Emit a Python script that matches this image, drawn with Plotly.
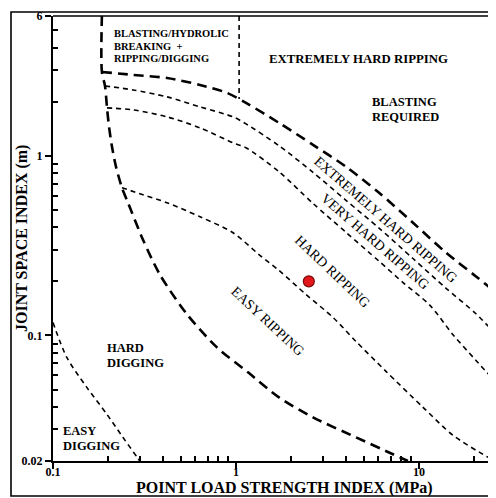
import plotly.graph_objects as go

# ---- data (values in MPa / m) ----
dig_rip_x = [0.185, 0.185, 0.1924, 0.1973, 0.2024, 0.2101, 0.2209, 0.2382, 0.2569, 0.3103, 0.384, 0.540, 0.787, 1.163, 1.718, 2.635, 4.526, 7.209, 8.7]
dig_rip_y = [6.0, 2.93, 2.448, 1.848, 1.449, 1.122, 0.869, 0.664, 0.548, 0.341, 0.218, 0.131, 0.0858, 0.0623, 0.0452, 0.0350, 0.0271, 0.0218, 0.020]

blast_x = [0.185, 0.274, 0.420, 0.636, 0.893, 1.134, 1.718, 2.635, 3.99, 6.05, 9.27, 14.05, 20.49, 26.4, 30.0]
blast_y = [2.93, 2.82, 2.71, 2.48, 2.24, 1.97, 1.525, 1.151, 0.869, 0.623, 0.424, 0.289, 0.213, 0.173, 0.156]

xhard_x = [0.1924, 0.274, 0.420, 0.636, 0.963, 1.134, 1.718, 2.635, 3.99, 6.05, 9.27, 14.05, 20.49, 26.4]
xhard_y = [2.448, 2.326, 2.128, 1.872, 1.647, 1.506, 1.138, 0.808, 0.565, 0.396, 0.268, 0.183, 0.132, 0.101]

vhard_x = [0.1973, 0.274, 0.420, 0.636, 0.963, 1.134, 1.718, 2.635, 3.99, 6.05, 8.18, 11.49, 15.34, 20.49, 26.4]
vhard_y = [1.848, 1.801, 1.647, 1.431, 1.181, 1.108, 0.815, 0.543, 0.375, 0.259, 0.197, 0.147, 0.101, 0.0725, 0.0548]

hard_x = [0.2382, 0.3103, 0.4198, 0.6358, 0.963, 1.336, 1.718, 2.413, 3.389, 4.526, 6.602, 10.52, 15.34, 23.23, 25.7]
hard_y = [0.664, 0.607, 0.548, 0.458, 0.373, 0.282, 0.230, 0.169, 0.126, 0.0926, 0.0631, 0.0398, 0.0278, 0.0213, 0.0202]

easydig_x = [0.1, 0.119, 0.153, 0.197, 0.241, 0.288, 0.298]
easydig_y = [0.118, 0.0754, 0.0514, 0.0364, 0.0271, 0.0210, 0.0200]

split_x = [1.04, 1.04]
split_y = [6.0, 2.07]

sample_x = [2.5]
sample_y = [0.2]

x_ticks = [0.1, 1, 10]
x_ticklabels = ["0.1", "1", "10"]
x_minor = [0.2, 0.3, 0.4, 0.5, 0.6, 0.7, 0.8, 0.9, 2, 3, 4, 5, 6, 7, 8, 9, 20]
y_ticks = [0.02, 0.1, 1, 6]
y_ticklabels = ["0.02", "0.1", "1", "6"]
y_minor = [0.03, 0.04, 0.05, 0.06, 0.07, 0.08, 0.09, 0.2, 0.3, 0.4, 0.5, 0.6, 0.7, 0.8, 0.9, 2, 3, 4, 5]

SERIF = "Liberation Serif, Times New Roman, serif"
LONG = dict(color="black", width=2.6, dash="10px,6px")
SHORT = dict(color="black", width=1.6, dash="5px,4px")

fig = go.Figure()
for xs, ys, st in [
    (dig_rip_x, dig_rip_y, LONG),
    (blast_x, blast_y, LONG),
    (xhard_x, xhard_y, SHORT),
    (vhard_x, vhard_y, SHORT),
    (hard_x, hard_y, SHORT),
    (easydig_x, easydig_y, SHORT),
    (split_x, split_y, SHORT),
]:
    fig.add_trace(go.Scatter(x=xs, y=ys, mode="lines", line=dict(st, shape="spline", smoothing=0.8),
                             showlegend=False, hoverinfo="skip"))

fig.add_trace(go.Scatter(x=sample_x, y=sample_y, mode="markers", showlegend=False,
                         marker=dict(size=11, color="#e3161b", line=dict(color="#7a0a0a", width=1.2))))

# page body has an 8px margin; plot area sits at window px x 53..496, y 16..461
OFF = 8


def PX(p):
    return (p - 53) / 443


def PY(p):
    return (461 - p) / 445


ann = []


def label(text, xp, yp, size=12.5, bold=True, angle=0, xanchor="left"):
    ann.append(dict(text=text, x=PX(xp), y=PY(yp), xref="paper", yref="paper", showarrow=False,
                    xanchor=xanchor, yanchor="middle", textangle=angle,
                    font=dict(family=SERIF, size=size, color="black", weight="bold" if bold else "normal")))


label("BLASTING/HYDROLIC", 112, 33, size=10.5)
label("BREAKING  +", 112, 46, size=10.5)
label("RIPPING/DIGGING", 112, 59, size=10.5)
label("EXTREMELY HARD RIPPING", 358, 59, size=12.8, xanchor="center")
label("BLASTING", 370, 102)
label("REQUIRED", 370, 117)
label("HARD", 105, 348)
label("DIGGING", 105, 363)
label("EASY", 61, 431)
label("DIGGING", 61, 446)

label("EXTREMELY HARD RIPPING", 385.5, 219, size=14, bold=False, angle=41, xanchor="center")
label("VERY HARD RIPPING", 375, 241.5, size=14, bold=False, angle=41, xanchor="center")
label("HARD RIPPING", 332.5, 271, size=14, bold=False, angle=43.6, xanchor="center")
label("EASY RIPPING", 268, 321, size=14, bold=False, angle=43, xanchor="center")

# axis titles
label("POINT LOAD STRENGTH INDEX (MPa)", 284.5, 488, size=16, xanchor="center")
label("JOINT SPACE INDEX (m)", 22, 239, size=16, angle=-90, xanchor="center")
# cut-off 30 tick label at the right edge
label("30", 506, 475, size=12, xanchor="center")

shapes = [
    dict(type="rect", xref="paper", yref="paper", x0=PX(11), x1=1.2, y0=PY(496), y1=PY(12),
         line=dict(color="black", width=1.6), fillcolor="rgba(0,0,0,0)"),
    dict(type="line", xref="paper", yref="paper", x0=0, x1=1.2, y0=1, y1=1,
         line=dict(color="black", width=1.6)),
]

axis_common = dict(type="log", showline=True, linewidth=2.2, linecolor="black", ticks="outside",
                   ticklen=6, tickwidth=2, tickcolor="black", showgrid=False, zeroline=False,
                   tickmode="array",
                   tickfont=dict(family=SERIF, size=12, color="black", weight="bold"))

fig.update_layout(
    width=496 - OFF, height=498 - OFF,
    margin=dict(l=53 - OFF, r=0, t=16 - OFF, b=498 - 461),
    paper_bgcolor="white", plot_bgcolor="white",
    xaxis=dict(axis_common, range=[-1, 1.4208], tickvals=x_ticks, ticktext=x_ticklabels,
               ticklabelstandoff=-8,
               minor=dict(tickmode="array", tickvals=x_minor, ticks="inside", ticklen=5, tickwidth=1.5,
                          tickcolor="black", showgrid=False)),
    yaxis=dict(axis_common, range=[-1.69897, 0.778151], tickvals=y_ticks, ticktext=y_ticklabels,
               minor=dict(tickmode="array", tickvals=y_minor, ticks="inside", ticklen=5, tickwidth=1.5,
                          tickcolor="black", showgrid=False)),
    annotations=ann,
    shapes=shapes,
    showlegend=False,
)

fig.write_html("out.html")
